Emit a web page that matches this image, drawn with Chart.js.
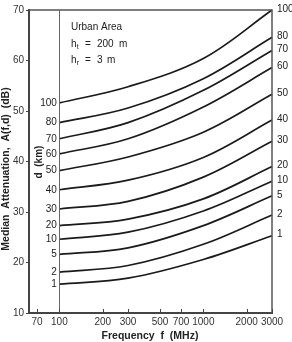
<!DOCTYPE html>
<html><head><meta charset="utf-8">
<script src="https://cdn.jsdelivr.net/npm/chart.js@4/dist/chart.umd.min.js"></script>
<style>html,body{margin:0;padding:0;background:#fff}</style>
</head><body>
<canvas id="c" width="292" height="342"></canvas>
<script>
// Frequencies (MHz) at which curves were read
const freqs = [100, 300, 1000, 3000];
// Distance labels (km)
const distances = [100, 80, 70, 60, 50, 40, 30, 20, 10, 5, 2, 1];
// Median attenuation (dB) per distance
const att100 = [51.6, 54.8, 60.4, 70.0];
const att80  = [47.7, 50.6, 56.4, 64.6];
const att70  = [44.5, 47.7, 54.1, 62.0];
const att60  = [41.5, 44.5, 50.8, 58.6];
const att50  = [38.2, 40.9, 45.8, 53.3];
const att40  = [34.4, 36.3, 40.8, 48.2];
const att30  = [30.6, 32.1, 36.9, 44.0];
const att20  = [27.3, 28.6, 32.6, 39.0];
const att10  = [24.6, 26.0, 30.2, 36.1];
const att5   = [21.6, 22.9, 27.3, 33.2];
const att2   = [18.1, 19.4, 23.6, 29.4];
const att1   = [15.7, 16.9, 20.6, 25.3];
const attSeries = [att100, att80, att70, att60, att50, att40, att30, att20, att10, att5, att2, att1];
// Tick labels
const xTicks = [70, 100, 200, 300, 500, 700, 1000, 2000, 3000];
const yTicks = [10, 20, 30, 40, 50, 60, 70];

const FONT = '"Liberation Sans", Arial, sans-serif';
const INK = '#222';

const datasets = distances.map((d, i) => ({
  label: String(d),
  data: freqs.map((f, j) => ({ x: f, y: attSeries[i][j] })),
  borderColor: '#1a1a1a',
  borderWidth: 1.7,
  pointRadius: 0,
  fill: false,
  tension: 0.35,
  clip: false
}));

const deco = {
  id: 'deco',
  afterDraw(chart) {
    const { ctx, chartArea: a, scales: { x, y } } = chart;
    ctx.save();
    ctx.strokeStyle = '#555'; ctx.lineWidth = 1.5;
    ctx.beginPath(); ctx.moveTo(a.left, a.top); ctx.lineTo(a.right, a.top); ctx.lineTo(a.right, a.bottom); ctx.stroke();
    const x100 = x.getPixelForValue(100);
    ctx.strokeStyle = '#666'; ctx.lineWidth = 1;
    ctx.beginPath(); ctx.moveTo(Math.round(x100) + 0.5, a.top); ctx.lineTo(Math.round(x100) + 0.5, a.bottom); ctx.stroke();
    ctx.strokeStyle = '#444';
    xTicks.forEach(v => {
      const px = Math.round(x.getPixelForValue(v)) + 0.5;
      ctx.beginPath(); ctx.moveTo(px, a.bottom); ctx.lineTo(px, a.bottom - 4); ctx.stroke();
    });
    ctx.font = '10px ' + FONT; ctx.fillStyle = INK; ctx.textBaseline = 'middle';
    chart.data.datasets.forEach(ds => {
      const p0 = ds.data[0], pn = ds.data[ds.data.length - 1];
      ctx.textAlign = 'right';
      ctx.fillText(ds.label, x100 - 2.5, y.getPixelForValue(p0.y));
      ctx.textAlign = 'left';
      ctx.fillText(ds.label, a.right + 5, y.getPixelForValue(pn.y) - 1);
    });
    ctx.textBaseline = 'alphabetic'; ctx.textAlign = 'left';
    ctx.font = '10px ' + FONT;
    ctx.fillText('Urban Area', 71, 29.5);
    ctx.fillText('h', 71, 46.5);
    ctx.fillText('=', 85, 46.5);
    ctx.fillText('200', 97, 46.5);
    ctx.fillText('m', 119, 46.5);
    ctx.fillText('h', 71, 62.5);
    ctx.fillText('=', 85, 62.5);
    ctx.fillText('3', 97, 62.5);
    ctx.fillText('m', 107, 62.5);
    ctx.font = '7px ' + FONT;
    ctx.fillText('t', 76.8, 48.5);
    ctx.fillText('r', 76.8, 64.5);
    ctx.font = 'bold 10.5px ' + FONT; ctx.textAlign = 'center'; ctx.textBaseline = 'middle';
    ctx.fillText('Frequency  f  (MHz)', 150, 336);
    ctx.save();
    ctx.translate(6, 169); ctx.rotate(-Math.PI / 2);
    ctx.font = 'bold 10.5px ' + FONT;
    ctx.fillText('Median  Attenuation,  A(f,d)  (dB)', 0, 0);
    ctx.restore();
    ctx.save();
    ctx.translate(39, 162); ctx.rotate(-Math.PI / 2);
    ctx.font = 'bold 10px ' + FONT;
    ctx.fillText('d  (km)', 0, 0);
    ctx.restore();
    ctx.restore();
  }
};

new Chart(document.getElementById('c'), {
  type: 'line',
  data: { datasets },
  options: {
    responsive: false,
    devicePixelRatio: 1,
    animation: false,
    layout: { padding: { left: 0, right: 20, top: 10, bottom: 0 } },
    plugins: { legend: { display: false }, tooltip: { enabled: false } },
    scales: {
      x: {
        type: 'logarithmic', min: 61.5, max: 3000,
        afterBuildTicks: s => { s.ticks = xTicks.map(v => ({ value: v })); },
        afterFit: s => { s.height = 29; },
        ticks: { callback: v => String(v), autoSkip: false, maxRotation: 0, padding: 3,
                 font: { family: FONT, size: 10 }, color: '#333' },
        grid: { display: false, drawTicks: false },
        border: { display: true, color: '#444', width: 2 }
      },
      y: {
        type: 'linear', min: 10, max: 70,
        afterBuildTicks: s => { s.ticks = yTicks.map(v => ({ value: v })); },
        afterFit: s => { s.width = 29; },
        ticks: { padding: 2, font: { family: FONT, size: 10 }, color: '#333' },
        grid: { display: true, drawOnChartArea: false, drawTicks: true, tickLength: 3, color: '#444', lineWidth: 1 },
        border: { display: true, color: '#444', width: 2 }
      }
    }
  },
  plugins: [deco]
});
</script>
</body></html>
